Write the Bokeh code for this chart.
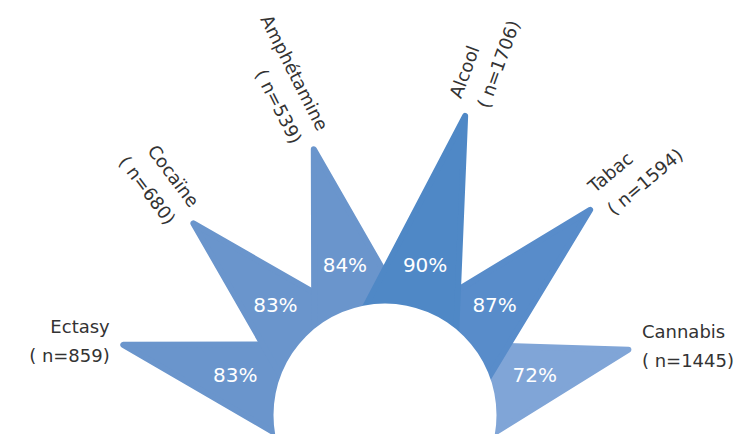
import numpy as np
from bokeh.plotting import figure
from bokeh.models import Range1d, ColumnDataSource
from bokeh.embed import file_html
from bokeh.resources import INLINE
from bokeh.core.properties import value

# ---- data ----
categories = ["Ectasy", "Cocaïne", "Amphétamine", "Alcool", "Tabac", "Cannabis"]
n_counts = [859, 680, 539, 1706, 1594, 1445]
percent = [83, 83, 84, 90, 87, 72]

# ---- styles ----
colors = ["#6a95cc", "#6a95cc", "#6a95cc", "#4f88c6", "#588cca", "#80a5d7"]
label_angles = [0, -53, -63, 70, 40, 0]
label_aligns = ["right", "right", "right", "left", "left", "left"]

W, H = 743, 434
cx, cy = 384.5, 414.5  # centre in plot pixels (from left/top)

p = figure(width=W, height=H, output_backend="svg", toolbar_location=None,
           x_range=Range1d(-cx, W - cx), y_range=Range1d(-(H - cy), cy),
           x_axis_type=None, y_axis_type=None,
           min_border=0, outline_line_color=None)
p.grid.visible = False
p.background_fill_color = "white"
p.border_fill_color = "white"

# radial power scale: value -> tip radius
v0 = min(percent)
def radius(v):
    return 252.0 + 0.084 * (v - v0) ** 2.26

n = len(categories)
step = 180.0 / n
angles = [180 - step * (i + 0.5) for i in range(n)]  # 165, 135, ... 15
base_r = 100.0
hole_r = 111.5

order = np.argsort(percent, kind="stable")
xs, ys, fc = [], [], []
for i in order:
    a = np.deg2rad(angles[i])
    d = np.deg2rad(step)
    R = radius(percent[i])
    xs.append([base_r * np.cos(a + d), R * np.cos(a), base_r * np.cos(a - d)])
    ys.append([base_r * np.sin(a + d), R * np.sin(a), base_r * np.sin(a - d)])
    fc.append(colors[i])

p.patches(xs=xs, ys=ys, fill_color=fc, line_color=fc, line_width=6,
          line_join="round")

# white hole
p.circle(x=[0], y=[0], radius=hole_r, fill_color="white", line_color=None)

# percentage labels
lab_r = 155
src_pct = ColumnDataSource(dict(
    x=[lab_r * np.cos(np.deg2rad(a)) for a in angles],
    y=[lab_r * np.sin(np.deg2rad(a)) for a in angles],
    t=[f"{v}%" for v in percent]))
p.text(x="x", y="y", text="t", source=src_pct, text_color="white",
       text_font_size="20px", text_font=value("DejaVu Sans"),
       text_align="center", text_baseline="middle")

# category labels
off = 14
src_cat = ColumnDataSource(dict(
    x=[(radius(v) + off) * np.cos(np.deg2rad(a)) for v, a in zip(percent, angles)],
    y=[(radius(v) + off) * np.sin(np.deg2rad(a)) for v, a in zip(percent, angles)],
    t=[f"{c}\n( n={k})" for c, k in zip(categories, n_counts)],
    ang=label_angles, al=label_aligns))
p.text(x="x", y="y", text="t", source=src_cat, angle="ang", angle_units="deg",
       text_align="al", text_baseline="middle", text_color="#333333",
       text_font_size="18px", text_font=value("DejaVu Sans"), text_line_height=1.4)

open("out.html", "w").write(file_html(p, INLINE))
